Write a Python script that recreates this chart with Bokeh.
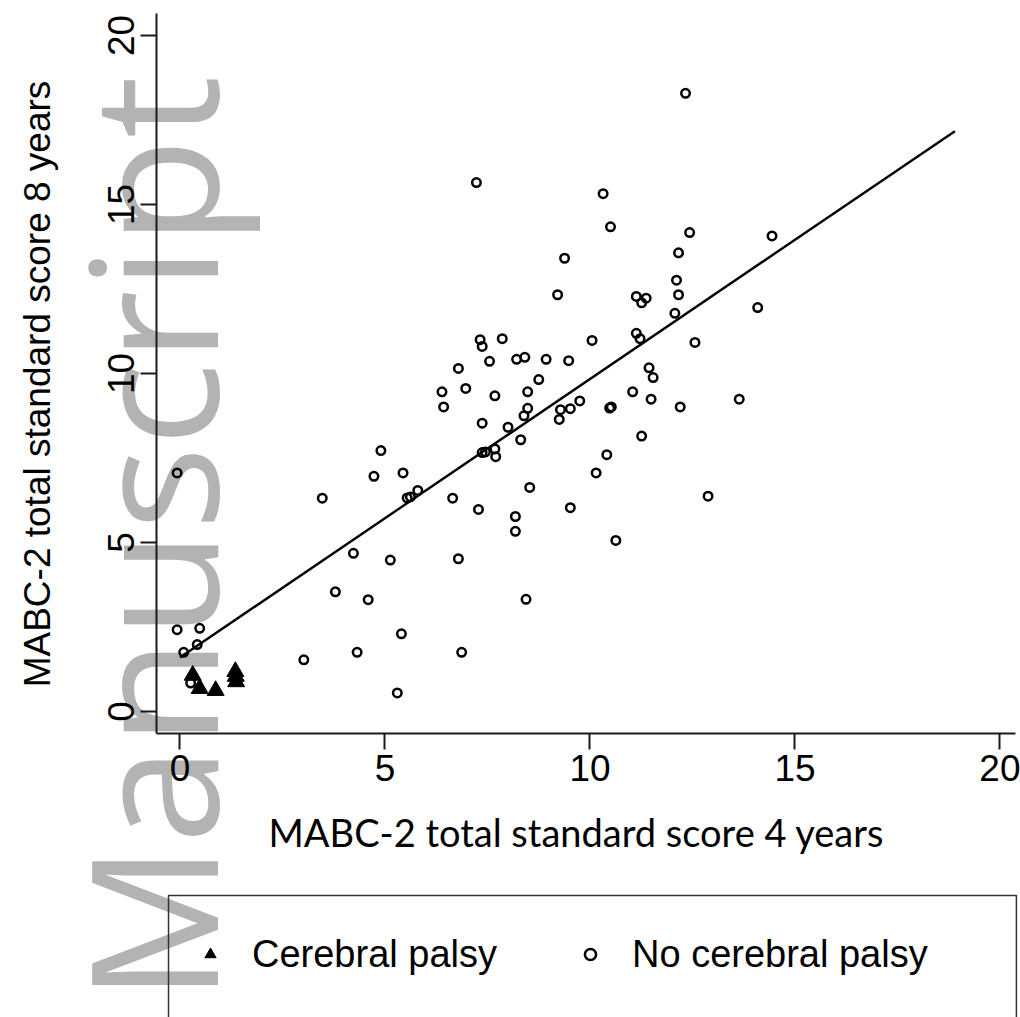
import math
from bokeh.plotting import figure
from bokeh.models import Range1d, Label, Legend, LegendItem, FixedTicker, BoxAnnotation
from bokeh.embed import file_html
from bokeh.resources import INLINE

# ---- data ----
x_ticks = [0, 5, 10, 15, 20]
y_ticks = [0, 5, 10, 15, 20]

cp_x = [0.31, 0.48, 0.87, 1.35, 1.36, 1.37]
cp_y = [1.07, 0.68, 0.62, 1.18, 1.04, 0.88]

ncp_x = [12.33, 7.23, 10.32, 10.50, 12.43, 14.44, 9.38, 12.16, 12.11, 9.21,
         12.16, 11.13, 11.37, 11.26, 14.09, 12.07, 11.13, 11.22, 12.56, 10.05,
         7.32, 7.37, 7.86, 6.79, 7.55, 8.21, 8.41, 8.93, 9.48, 8.75,
         11.44, 11.54, 6.39, 6.43, 6.97, 7.68, 8.48, 8.48, 8.39, 9.28,
         9.52, 9.75, 9.25, 10.48, 10.52, 11.04, 11.49, 12.20, 13.64, 7.37,
         8.00, 8.31, 11.26, 4.90, 7.37, 7.45, 7.68, 7.70, 10.41, 4.73,
         5.44, 10.15, 5.54, 5.62, 5.80, 3.47, 6.65, 8.53, 7.28, 12.88,
         9.52, 8.18, 8.18, 10.63, 4.23, 6.79, 5.13, 3.79, 4.59, 8.44,
         5.40, 3.02, 4.32, 6.87, 5.30, -0.07, -0.07, 0.48, 0.09, 0.42,
         0.26]
ncp_y = [18.29, 15.65, 15.32, 14.34, 14.17, 14.07, 13.41, 13.57, 12.76, 12.33,
         12.33, 12.28, 12.23, 12.09, 11.95, 11.78, 11.19, 11.03, 10.92, 10.98,
         11.00, 10.80, 11.03, 10.15, 10.36, 10.42, 10.48, 10.42, 10.38, 9.82,
         10.17, 9.88, 9.46, 9.01, 9.56, 9.34, 9.46, 8.97, 8.75, 8.93,
         8.96, 9.19, 8.64, 8.98, 9.01, 9.46, 9.24, 9.01, 9.24, 8.53,
         8.41, 8.04, 8.15, 7.72, 7.66, 7.68, 7.77, 7.54, 7.60, 6.96,
         7.06, 7.06, 6.32, 6.35, 6.54, 6.31, 6.31, 6.63, 5.98, 6.37,
         6.03, 5.77, 5.33, 5.06, 4.68, 4.52, 4.48, 3.54, 3.31, 3.32,
         2.30, 1.53, 1.75, 1.75, 0.55, 7.06, 2.42, 2.46, 1.75, 1.98,
         0.84]

fit_x = [0.0, 18.9]
fit_y = [1.60, 17.17]

x_title = "MABC-2 total standard score 4 years"
y_title = "MABC-2 total standard score 8 years"
legend_labels = ["Cerebral palsy", "No cerebral palsy"]
watermark = "Manuscript"

# axis box (R's "l" box) limits in data units
x_box = (-0.58, 20.38)
y_box = (-0.65, 20.65)

SANS = "Liberation Sans"

# the frame covers the whole canvas; axes are placed at fixed data locations
p = figure(width=1020, height=1017,
           x_range=Range1d(-4.378, 20.5), y_range=Range1d(-9.053, 21.036),
           output_backend="svg", toolbar_location=None, min_border=0)
p.outline_line_color = None
p.grid.visible = False
p.background_fill_color = "white"
p.border_fill_color = "white"

# watermark underneath everything
wm = Label(x=-0.74, y=18.82, x_units="data", y_units="data", text=watermark,
           angle=math.pi / 2, text_align="right", text_baseline="alphabetic",
           text_font="Open Sans", text_font_size="176px", text_color="#b3b3b3",
           level="underlay")
p.add_layout(wm)

fit = p.line(fit_x, fit_y, line_color="black", line_width=2.4)
tri = p.scatter(cp_x, cp_y, marker="triangle", size=17,
                fill_color="black", line_color="black", line_width=1)
circ = p.scatter(ncp_x, ncp_y, marker="circle", size=8.5,
                 fill_color=None, line_color="black", line_width=2.5)

for ax in (p.xaxis[0], p.yaxis[0]):
    ax.axis_line_width = 2
    ax.axis_line_color = "#1a1a1a"
    ax.major_tick_line_width = 2
    ax.major_tick_line_color = "#1a1a1a"
    ax.major_tick_out = 16
    ax.major_tick_in = 0
    ax.minor_tick_line_color = None
    ax.major_label_text_font = SANS
    ax.major_label_text_font_size = "37px"
    ax.major_label_text_color = "black"
    ax.major_label_standoff = 6

p.xaxis.ticker = FixedTicker(ticks=x_ticks)
p.yaxis.ticker = FixedTicker(ticks=y_ticks)
p.yaxis.major_label_orientation = "vertical"
p.xaxis.fixed_location = y_box[0]
p.xaxis.bounds = x_box
p.yaxis.fixed_location = x_box[0]
p.yaxis.bounds = y_box

# axis titles
xt = Label(x=9.67, y=-3.55, text=x_title, text_align="center",
           text_baseline="middle", text_font="Lato", text_font_size="38px",
           text_color="black")
yt = Label(x=-3.48, y=9.69, text=y_title, angle=math.pi / 2,
           text_align="center", text_baseline="middle", text_font=SANS,
           text_font_size="37px", text_color="black")
p.add_layout(xt)
p.add_layout(yt)

# legend (items; no own border, so no padding) and its frame
legend = Legend(items=[LegendItem(label=legend_labels[0], renderers=[tri]),
                       LegendItem(label=legend_labels[1], renderers=[circ])],
                orientation="horizontal", location=(196, 31),
                padding=0, glyph_width=28, glyph_height=64,
                label_standoff=28, label_width=324, spacing=0, margin=0,
                border_line_color=None, background_fill_alpha=0,
                label_text_font=SANS, label_text_font_size="38px",
                label_text_color="black")
p.add_layout(legend)
legend_frame = BoxAnnotation(left=-0.28, right=20.40, top=-5.44, bottom=-9.6,
                             fill_color=None, fill_alpha=0,
                             line_color="#333333", line_alpha=1.0,
                             line_width=1.5)
p.add_layout(legend_frame)

open("out.html", "w").write(file_html(p, INLINE))
